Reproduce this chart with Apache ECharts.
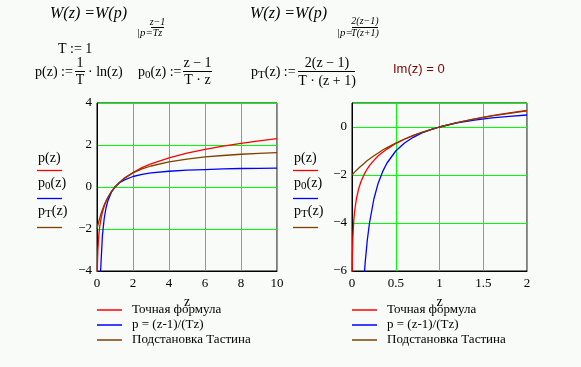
<!DOCTYPE html>
<html>
<head>
<meta charset="utf-8">
<script src="https://cdn.jsdelivr.net/npm/echarts@6/dist/echarts.min.js"></script>
<style>
html,body{margin:0;padding:0;background:#f8fbf8;}
#chart{width:581px;height:367px;}
</style>
</head>
<body>
<div id="chart"></div>
<script>
// ---- data ----
const seriesNames = ['Точная формула', 'p = (z-1)/(Tz)', 'Подстановка Тастина'];
const traceLabels = ['p', 'p', 'p'];
const traceSubs = ['', '0', 'T'];

const leftXTicks = [0, 2, 4, 6, 8, 10];
const leftYTicks = [-4, -2, 0, 2, 4];
const rightXTicks = [0, 0.5, 1, 1.5, 2];
const rightYTicks = [-6, -4, -2, 0];

const leftZ = [0.001, 0.005, 0.01, 0.02, 0.03, 0.05, 0.1, 0.15, 0.2, 0.3, 0.4, 0.5, 0.6, 0.8, 1, 1.25, 1.5, 2, 2.5, 3, 4, 5, 6, 7, 8, 9, 10];
const leftExact = [-6.91, -5.30, -4.61, -3.91, -3.51, -3.00, -2.30, -1.90, -1.61, -1.20, -0.92, -0.69, -0.51, -0.22, 0, 0.22, 0.41, 0.69, 0.92, 1.10, 1.39, 1.61, 1.79, 1.95, 2.08, 2.20, 2.30];
const leftP0 = [-999, -199, -99, -49, -32.3, -19, -9, -5.67, -4, -2.33, -1.5, -1, -0.67, -0.25, 0, 0.2, 0.33, 0.5, 0.6, 0.67, 0.75, 0.8, 0.83, 0.86, 0.88, 0.89, 0.9];
const leftPT = [-2.00, -1.98, -1.96, -1.92, -1.88, -1.81, -1.64, -1.48, -1.33, -1.08, -0.86, -0.67, -0.5, -0.22, 0, 0.22, 0.4, 0.67, 0.86, 1.0, 1.2, 1.33, 1.43, 1.5, 1.56, 1.6, 1.64];

const rightZ = [0.001, 0.0025, 0.005, 0.01, 0.02, 0.03, 0.05, 0.075, 0.1, 0.125, 0.15, 0.175, 0.2, 0.25, 0.3, 0.35, 0.4, 0.5, 0.6, 0.7, 0.8, 0.9, 1, 1.2, 1.4, 1.6, 1.8, 2];
const rightExact = [-6.91, -5.99, -5.30, -4.61, -3.91, -3.51, -3.00, -2.59, -2.30, -2.08, -1.90, -1.74, -1.61, -1.39, -1.20, -1.05, -0.92, -0.69, -0.51, -0.36, -0.22, -0.11, 0, 0.18, 0.34, 0.47, 0.59, 0.69];
const rightP0 = [-999, -399, -199, -99, -49, -32.3, -19, -12.3, -9, -7, -5.67, -4.71, -4, -3, -2.33, -1.86, -1.5, -1, -0.67, -0.43, -0.25, -0.11, 0, 0.17, 0.29, 0.38, 0.44, 0.5];
const rightPT = [-2.00, -1.99, -1.98, -1.96, -1.92, -1.88, -1.81, -1.72, -1.64, -1.56, -1.48, -1.40, -1.33, -1.2, -1.08, -0.96, -0.86, -0.67, -0.5, -0.35, -0.22, -0.11, 0, 0.18, 0.33, 0.46, 0.57, 0.67];

// ---- styling ----
const colors = ['#ff0000', '#0000ff', '#804000'];
const SERIF = '"Liberation Serif", "Times New Roman", serif';
const SANS = '"Liberation Sans", Arial, sans-serif';
const GRIDGREEN = '#00ff00';

function zip(xs, ys) { return xs.map((x, i) => [x, ys[i]]); }
function minus(v) { return String(v).replace('-', '\u2212'); }

function xAxis(idx, min, max, interval) {
  return {
    type: 'value', gridIndex: idx, min: min, max: max, interval: interval,
    name: 'z', nameLocation: 'middle', nameGap: 24,
    nameTextStyle: { fontFamily: SERIF, fontSize: 14, color: '#000' },
    axisLine: { show: true, onZero: false, lineStyle: { color: '#000', width: 1 } },
    axisTick: { show: false },
    axisLabel: { color: '#000', fontFamily: SERIF, fontSize: 13, margin: 6, formatter: minus },
    splitLine: { show: true, lineStyle: { color: GRIDGREEN, width: 1, opacity: 1, type: 'solid' } }
  };
}
function yAxis(idx, min, max, interval, showMax) {
  return {
    type: 'value', gridIndex: idx, min: min, max: max, interval: interval,
    axisLine: { show: true, onZero: false, lineStyle: { color: '#000', width: 1 } },
    axisTick: { show: false },
    axisLabel: { color: '#000', fontFamily: SERIF, fontSize: 13, margin: 5, showMaxLabel: showMax, formatter: minus },
    splitLine: { show: true, lineStyle: { color: GRIDGREEN, width: 1, opacity: 1, type: 'solid' } }
  };
}
function lineSeries(name, xi, data, color) {
  return {
    type: 'line', name: name, xAxisIndex: xi, yAxisIndex: xi, data: data,
    showSymbol: false, symbol: 'none', clip: true, animation: false,
    lineStyle: { color: color, width: 1.3 }, itemStyle: { color: color }
  };
}

// ---- graphic text helpers ----
const G = [];
function txt(text, x, y, font, opts) {
  G.push({ type: 'text', silent: true, style: Object.assign({ text: text, x: x, y: y, font: font, fill: '#000', align: 'left', verticalAlign: 'middle' }, opts || {}) });
}
function hline(x1, x2, y, color, w) {
  G.push({ type: 'line', silent: true, shape: { x1: x1, y1: y, x2: x2, y2: y }, style: { stroke: color || '#000', lineWidth: w || 1 } });
}
const F16I = 'italic 16px ' + SERIF;
const F10I = 'italic 10px ' + SERIF;
const F11I = 'italic 11px ' + SERIF;
const F14 = '14px ' + SERIF;
const F11 = '11px ' + SERIF;

function pSub(x, y, sub, rest) {
  txt('p', x, y, F14);
  let nx = x + 7;
  if (sub) {
    txt(sub, nx, y + 3, F11);
    nx += sub === 'T' ? 6.8 : 5.6;
  }
  txt(rest, nx, y, F14);
}

// formula 1
txt('W(z) =W(p)', 50, 14, F16I);
txt('|p=', 137, 33, F11I);
txt('z\u22121', 157.5, 22, F10I, { align: 'center' });
hline(151, 164, 27.5);
txt('Tz', 157.5, 33.5, F10I, { align: 'center' });
// formula 2
txt('W(z) =W(p)', 250, 14, F16I);
txt('|p=', 337, 33, F11I);
txt('2(z\u22121)', 365, 21, F10I, { align: 'center' });
hline(352, 378, 27.5);
txt('T(z+1)', 365, 33, F10I, { align: 'center' });
// definitions
txt('T := 1', 58, 49, F14);
txt('p(z) :=', 35, 72, F14);
txt('1', 80, 63, F14, { align: 'center' });
hline(75, 85, 71.5);
txt('T', 80, 80.5, F14, { align: 'center' });
txt('\u00b7 ln(z)', 88, 72, F14);
pSub(138, 72, '0', '(z) :=');
txt('z \u2212 1', 197.5, 63, F14, { align: 'center' });
hline(183, 212, 71.5);
txt('T \u00b7 z', 197.5, 80.5, F14, { align: 'center' });
pSub(251, 72, 'T', '(z) :=');
txt('2(z \u2212 1)', 327, 63, F14, { align: 'center' });
hline(298, 355, 71.5);
txt('T \u00b7 (z + 1)', 327, 81, F14, { align: 'center' });
txt('Im(z) = 0', 393, 69, '13px ' + SANS, { fill: '#800000' });

// trace labels next to each plot
const traceX = [37, 293];
const traceTextY = [158, 183, 211];
const traceLineY = [170.5, 198.5, 227.5];
traceX.forEach(function (x0) {
  for (let i = 0; i < 3; i++) {
    pSub(x0 + 1, traceTextY[i], traceSubs[i], '(z)');
    hline(x0, x0 + 25, traceLineY[i], colors[i], 1.3);
  }
});

function legend(left) {
  return {
    left: left, top: 302.5, padding: 0, orient: 'vertical', itemGap: 0, itemWidth: 25, itemHeight: 1.5,
    icon: 'rect', selectedMode: false, data: seriesNames,
    textStyle: { fontFamily: SERIF, fontSize: 13, color: '#000', lineHeight: 15, padding: [0, 0, 0, 5] }
  };
}

const option = {
  backgroundColor: '#f8fbf8',
  animation: false,
  color: colors,
  grid: [
    { left: 97, top: 103, width: 180, height: 168, show: true, borderColor: '#000', borderWidth: 1, backgroundColor: 'transparent' },
    { left: 352, top: 103, width: 175, height: 168, show: true, borderColor: '#000', borderWidth: 1, backgroundColor: 'transparent' }
  ],
  xAxis: [xAxis(0, leftXTicks[0], leftXTicks[leftXTicks.length - 1], leftXTicks[1] - leftXTicks[0]),
          xAxis(1, rightXTicks[0], rightXTicks[rightXTicks.length - 1], rightXTicks[1] - rightXTicks[0])],
  yAxis: [yAxis(0, leftYTicks[0], leftYTicks[leftYTicks.length - 1], leftYTicks[1] - leftYTicks[0], true),
          yAxis(1, rightYTicks[0], 1, rightYTicks[1] - rightYTicks[0], false)],
  legend: [legend(97), legend(352)],
  series: [
    lineSeries(seriesNames[0], 0, zip(leftZ, leftExact), colors[0]),
    lineSeries(seriesNames[1], 0, zip(leftZ, leftP0), colors[1]),
    lineSeries(seriesNames[2], 0, zip(leftZ, leftPT), colors[2]),
    lineSeries(seriesNames[0], 1, zip(rightZ, rightExact), colors[0]),
    lineSeries(seriesNames[1], 1, zip(rightZ, rightP0), colors[1]),
    lineSeries(seriesNames[2], 1, zip(rightZ, rightPT), colors[2])
  ],
  graphic: { elements: G }
};

const chart = echarts.init(document.getElementById('chart'), null, { renderer: 'canvas' });
chart.setOption(option);
</script>
</body>
</html>
